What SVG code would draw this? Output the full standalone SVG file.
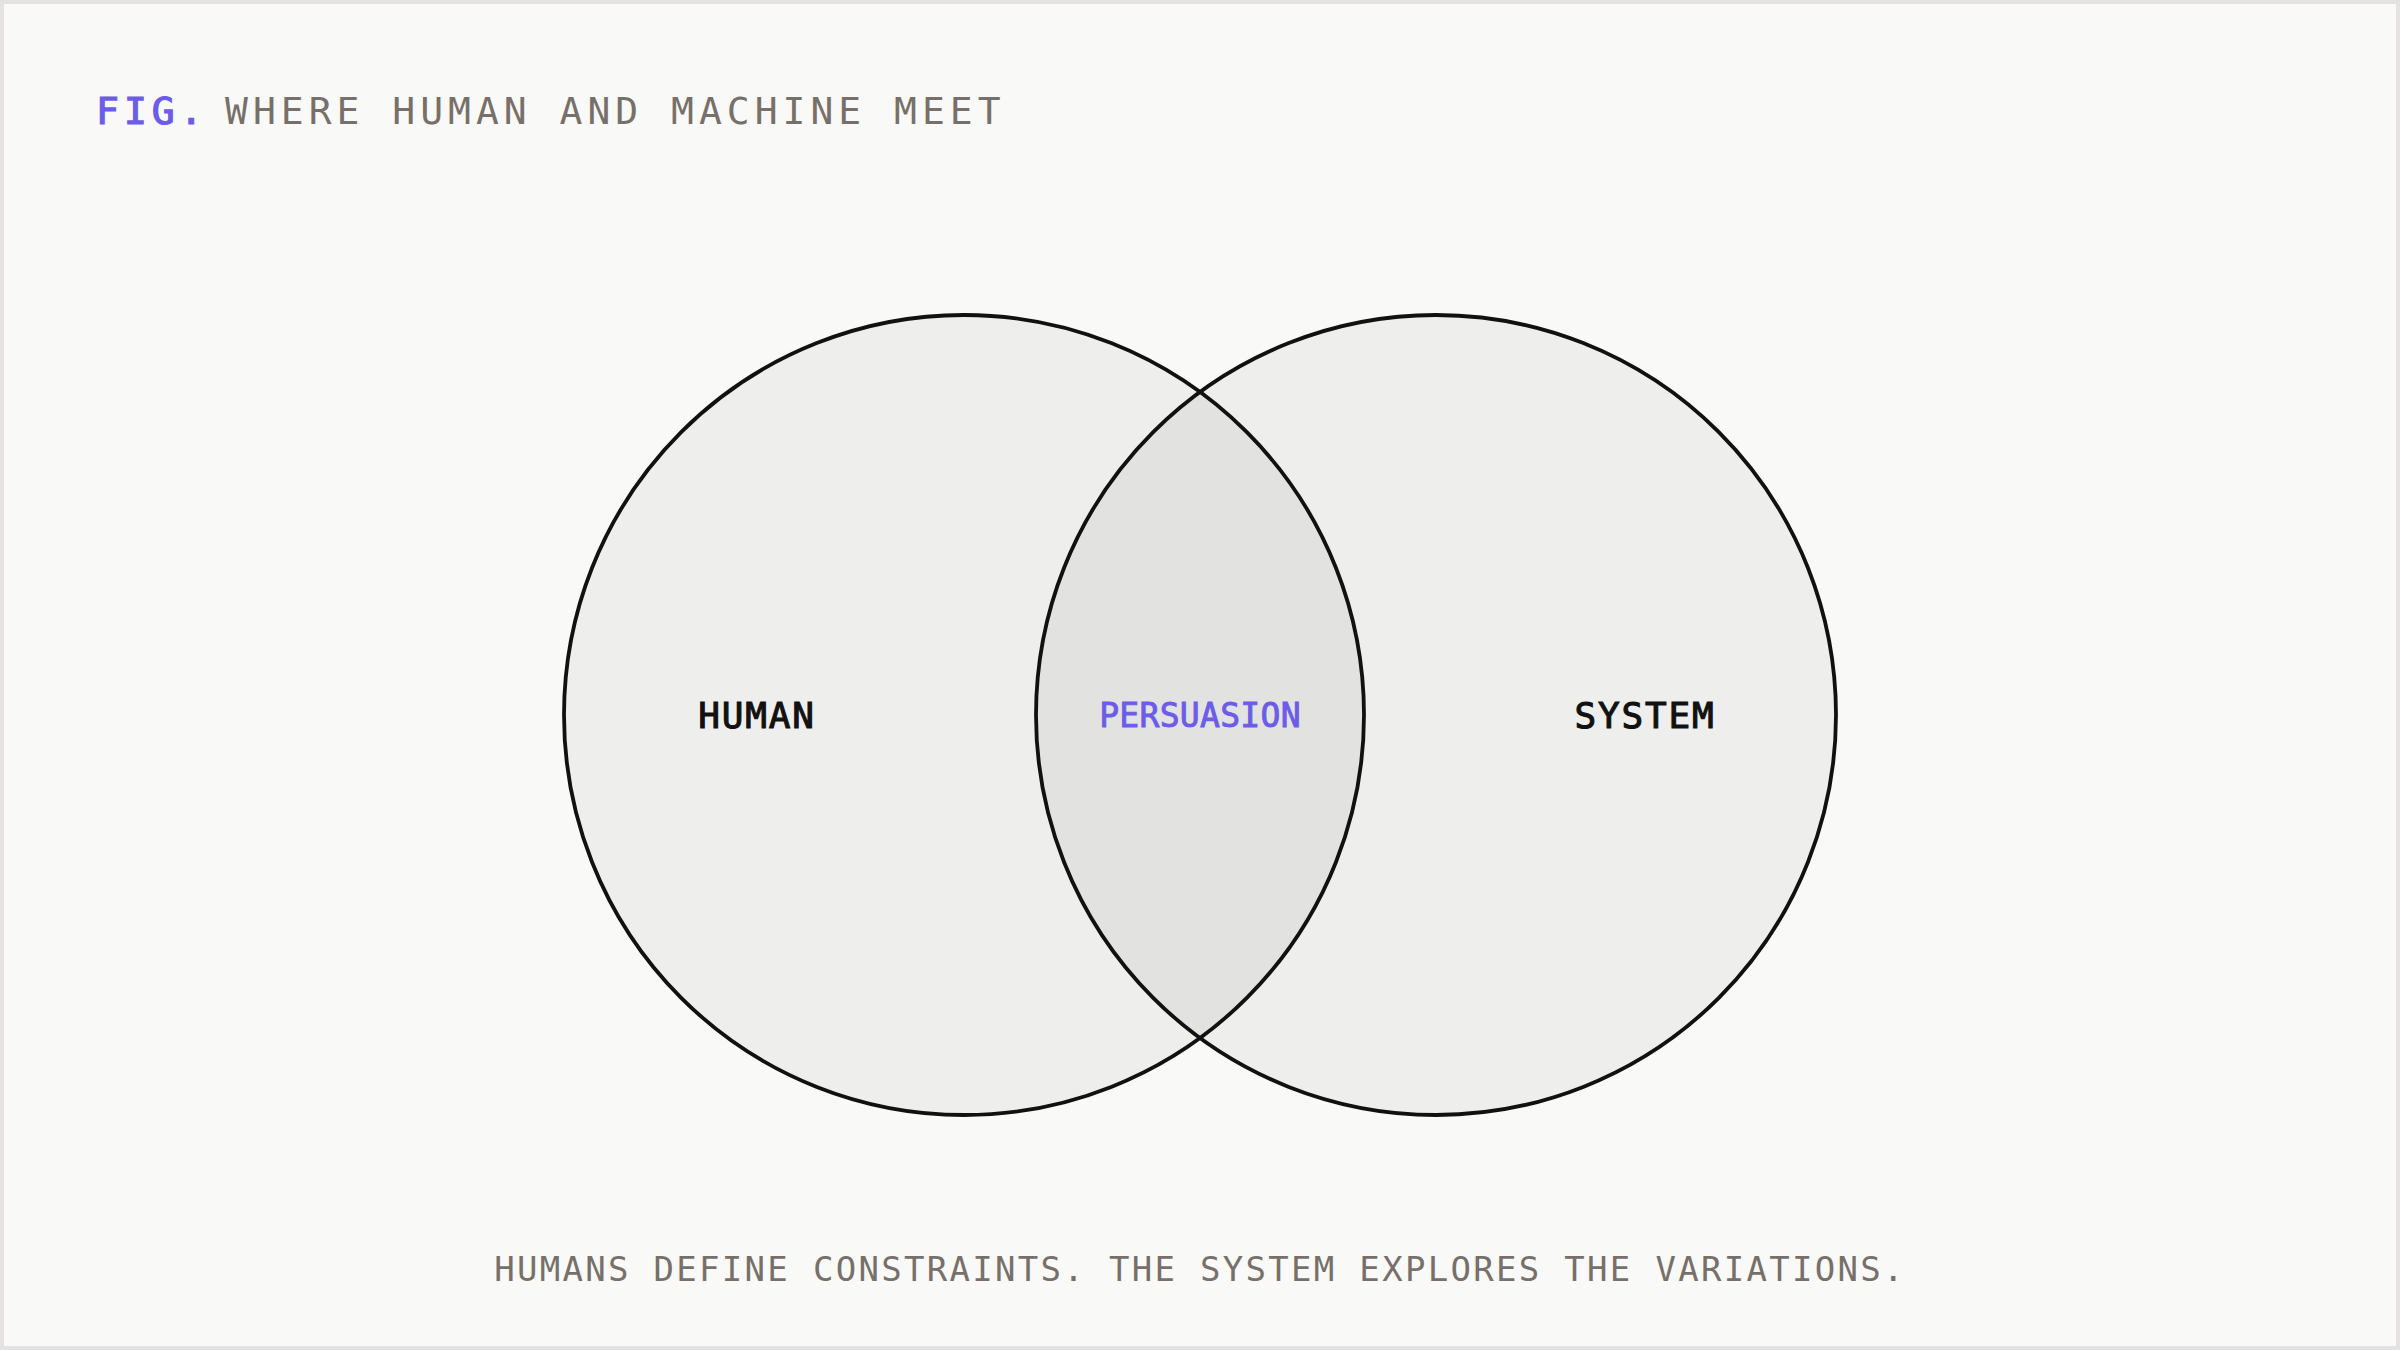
<svg xmlns="http://www.w3.org/2000/svg" width="2400" height="1350" viewBox="0 0 2400 1350">
  <style>
    .mono { font-family: "DejaVu Sans Mono", "Liberation Mono", monospace; }
    .title { font-size: 38px; fill: #77706a; letter-spacing: 5px; }
    .fig { font-size: 38px; fill: #6c5ce7; stroke: #6c5ce7; stroke-width: 1.2px; letter-spacing: 5px; }
    .label { font-size: 36px; fill: #111111; stroke: #111111; stroke-width: 1.1px; letter-spacing: 1.8px; text-anchor: middle; }
    .mid { font-size: 33px; fill: #6c5ce7; stroke: #6c5ce7; stroke-width: 0.9px; letter-spacing: 0.3px; text-anchor: middle; }
    .foot { font-size: 34px; fill: #77706a; letter-spacing: 2.3px; text-anchor: middle; }
    .circ { fill: #eeeeec; }
    .ring { fill: none; stroke: #111111; stroke-width: 3.8; }
  </style>
  <rect x="0" y="0" width="2400" height="1350" fill="#f9f9f7"/>
  <rect x="2" y="2" width="2396" height="1346" fill="none" stroke="#e4e3e1" stroke-width="4"/>

  <g id="title">
    <text class="mono fig" x="96" y="124">FIG.</text>
    <text class="mono title" x="225" y="124">WHERE HUMAN AND MACHINE MEET</text>
  </g>

  <g id="human">
    <circle class="circ" cx="964" cy="715" r="400"/>
  </g>
  <g id="system">
    <circle class="circ" cx="1436" cy="715" r="400"/>
  </g>
  <g id="persuasion">
    <path d="M1200,392 A400,400 0 0,1 1200,1038 A400,400 0 0,1 1200,392 Z" fill="#e2e2e1"/>
  </g>
  <g id="outlines">
    <circle class="ring" cx="964" cy="715" r="400"/>
    <circle class="ring" cx="1436" cy="715" r="400"/>
  </g>

  <g id="labels">
    <text class="mono label" x="757" y="728">HUMAN</text>
    <text class="mono mid" x="1200" y="727">PERSUASION</text>
    <text class="mono label" x="1645" y="728">SYSTEM</text>
  </g>

  <g id="caption">
    <text class="mono foot" x="1200" y="1281">HUMANS DEFINE CONSTRAINTS. THE SYSTEM EXPLORES THE VARIATIONS.</text>
  </g>
</svg>
